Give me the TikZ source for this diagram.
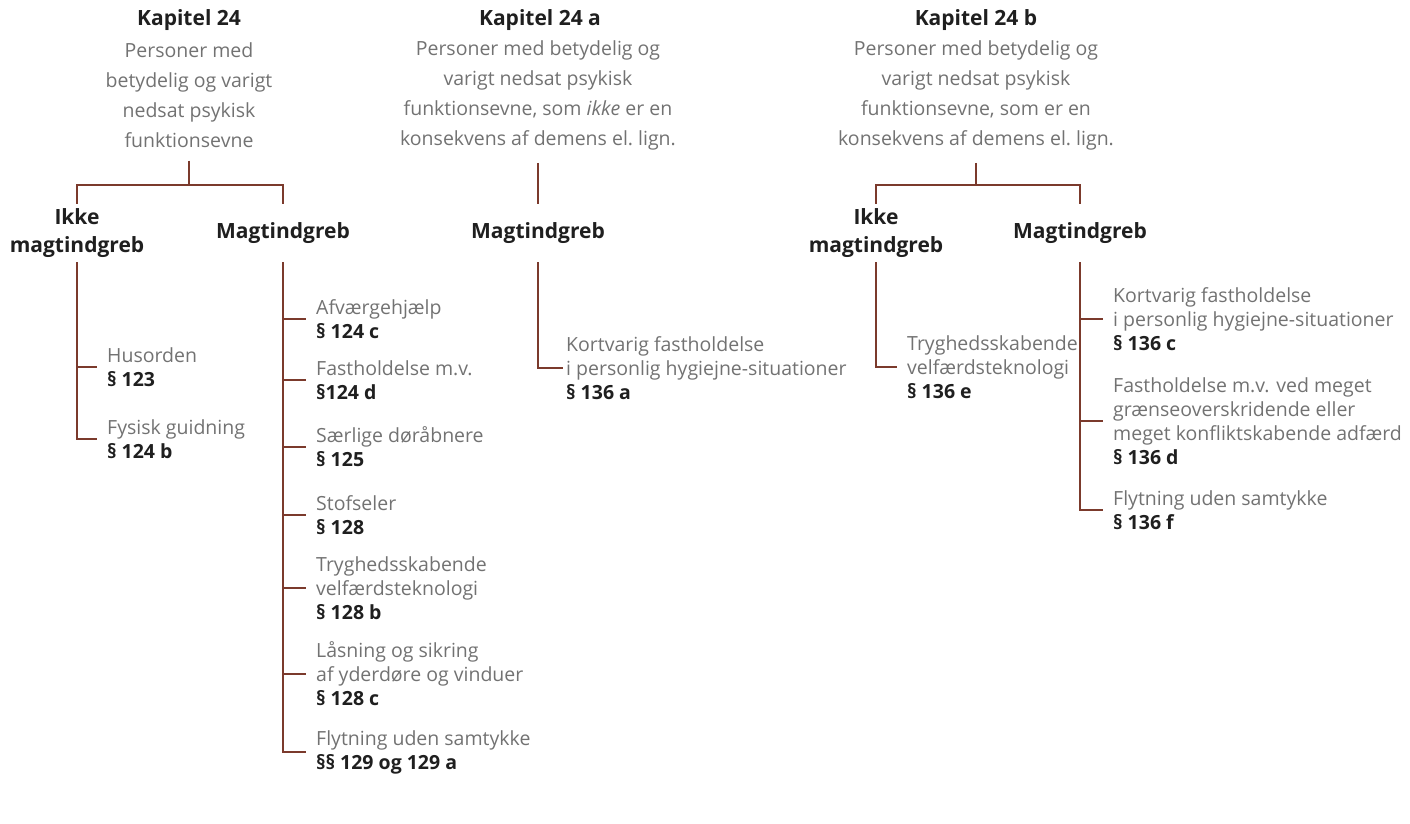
\documentclass[tikz,border=0pt]{standalone}
\usepackage{fontspec}
\setmainfont{Open Sans}
\usepackage{tikz}
\usetikzlibrary{calc,positioning}
\usepackage{xcolor}
\definecolor{twigbrown}{HTML}{7B3A2C}
\definecolor{greytext}{HTML}{727272}
\definecolor{darktext}{HTML}{1F1F1F}
\newcommand{\para}[1]{{\bfseries\fontsize{19.5}{24}\selectfont\color{darktext}#1}}

\begin{document}
\begin{tikzpicture}[x=1pt,y=-1pt,
    title/.style={font=\bfseries\fontsize{21}{24}\selectfont, text=darktext, inner sep=0pt},
    desc/.style={font=\fontsize{19.5}{30}\selectfont, text=greytext, align=center, inner xsep=0pt, inner ysep=13pt},
    head/.style={font=\bfseries\fontsize{21}{28}\selectfont, text=darktext, align=center, minimum height=58pt, inner sep=0pt},
    leaf/.style={anchor=west, font=\fontsize{19.5}{24}\selectfont, text=greytext, align=left, inner sep=0pt},
    twig/.style={draw=twigbrown, line width=1.6pt},
    stub/.style={twig, shorten >=10pt}]

    \useasboundingbox (0,0) rectangle (1410,823);

    % Chapter heads
    \node[title] (k24) at (189,20) {Kapitel 24};
    \node[desc] (d24) at (189,95) {Personer med\\betydelig og varigt\\nedsat psykisk\\funktionsevne};
    \node[title] (k24a) at (540,20) {Kapitel 24 a};
    \node[desc] (d24a) at (538,95) {Personer med betydelig og\\varigt nedsat psykisk\\funktionsevne, som \textit{ikke} er en\\konsekvens af demens el.\ lign.};
    \node[title] (k24b) at (976,20) {Kapitel 24 b};
    \node[desc] (d24b) at (976,95) {Personer med betydelig og\\varigt nedsat psykisk\\funktionsevne, som er en\\konsekvens af demens el.\ lign.};

    % Intervention heads
    \node[head] (ik24) at (77,233) {Ikke\\magtindgreb};
    \node[head] (mg24) at (283,233) {Magtindgreb};
    \node[head] (mg24a) at (538,233) {Magtindgreb};
    \node[head] (ik24b) at (876,233) {Ikke\\magtindgreb};
    \node[head] (mg24b) at (1080,233) {Magtindgreb};

    \coordinate (j24) at (189,185);
    \coordinate (j24b) at (976,185);

    % Leaves
    \node[leaf] (hus) at (107,367) {Husorden\\\para{§ 123}};
    \node[leaf] (fys) at (107,439) {Fysisk guidning\\\para{§ 124 b}};

    \node[leaf] (afv) at (316,319) {Afværgehjælp\\\para{§ 124 c}};
    \node[leaf] (fas) at (316,380) {Fastholdelse m.v.\\\para{§124 d}};
    \node[leaf] (dor) at (316,447) {Særlige døråbnere\\\para{§ 125}};
    \node[leaf] (sto) at (316,515) {Stofseler\\\para{§ 128}};
    \node[leaf] (try) at (316,588) {Tryghedsskabende\\velfærdsteknologi\\\para{§ 128 b}};
    \node[leaf] (las) at (316,674) {Låsning og sikring\\af yderdøre og vinduer\\\para{§ 128 c}};
    \node[leaf] (fly) at (316,752) {Flytning uden samtykke\\\para{§§ 129 og 129 a}};

    \node[leaf] (kor) at (566,368) {Kortvarig fastholdelse\\i personlig hygiejne-situationer\\\para{§ 136 a}};

    \node[leaf] (tryb) at (907,367) {Tryghedsskabende\\velfærdsteknologi\\\para{§ 136 e}};

    \node[leaf] (korb) at (1113,319) {Kortvarig fastholdelse\\i personlig hygiejne-situationer\\\para{§ 136 c}};
    \node[leaf] (fasb) at (1113,421) {Fastholdelse m.v. ved meget\\grænseoverskridende eller\\meget konfliktskabende adfærd\\\para{§ 136 d}};
    \node[leaf] (flyb) at (1113,510) {Flytning uden samtykke\\\para{§ 136 f}};

    % Draw branches from chapters
    \draw[twig] (d24.south) -- (j24);
    \draw[twig] (j24) -| (ik24.north);
    \draw[twig] (j24) -| (mg24.north);
    \draw[twig] (d24a.south) -- (mg24a.north);
    \draw[twig] (d24b.south) -- (j24b);
    \draw[twig] (j24b) -| (ik24b.north);
    \draw[twig] (j24b) -| (mg24b.north);

    % Draw spines and ticks
    \draw[stub] (ik24.south) |- (fys.west);
    \draw[stub] (ik24 |- hus.west) -- (hus.west);

    \draw[stub] (mg24.south) |- (fly.west);
    \draw[stub] (mg24 |- afv.west) -- (afv.west);
    \draw[stub] (mg24 |- fas.west) -- (fas.west);
    \draw[stub] (mg24 |- dor.west) -- (dor.west);
    \draw[stub] (mg24 |- sto.west) -- (sto.west);
    \draw[stub] (mg24 |- try.west) -- (try.west);
    \draw[stub] (mg24 |- las.west) -- (las.west);

    \draw[twig, shorten >=3pt] (mg24a.south) |- (kor.west);

    \draw[stub] (ik24b.south) |- (tryb.west);

    \draw[stub] (mg24b.south) |- (flyb.west);
    \draw[stub] (mg24b |- korb.west) -- (korb.west);
    \draw[stub] (mg24b |- fasb.west) -- (fasb.west);
\end{tikzpicture}
\end{document}
